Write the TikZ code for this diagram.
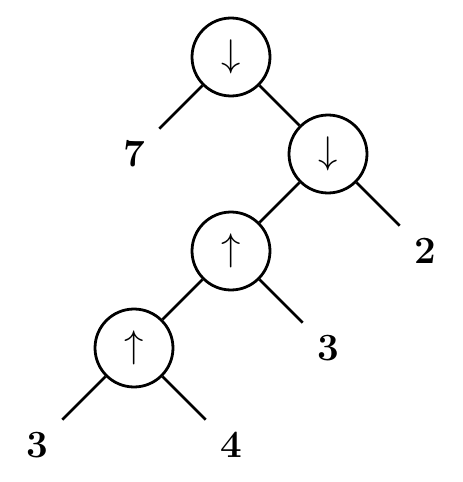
\documentclass[tikz,border=0pt]{standalone}
\begin{document}
\begin{tikzpicture}[x=0.645pt,y=-0.645pt,
  op/.style={circle,draw,line width=1.8pt,minimum size=50.3pt,inner sep=0pt,font=\Huge},
  leaf/.style={rectangle,minimum size=32.25pt,inner sep=0pt,font=\Huge\bfseries},
  edge/.style={line width=1.8pt}]
\useasboundingbox (0,0) rectangle (462,482);
\node[op] (r) at (231,57) {$\downarrow$};
\node[leaf] (l7) at (134,154) {7};
\node[op] (d2) at (328,154) {$\downarrow$};
\node[op] (u1) at (231,251) {$\uparrow$};
\node[leaf] (l2) at (425,251) {2};
\node[op] (u2) at (134,348) {$\uparrow$};
\node[leaf] (l3a) at (328,348) {3};
\node[leaf] (l3b) at (37,445) {3};
\node[leaf] (l4) at (231,445) {4};
\draw[edge] (r) -- (l7);
\draw[edge] (r) -- (d2);
\draw[edge] (d2) -- (u1);
\draw[edge] (d2) -- (l2);
\draw[edge] (u1) -- (u2);
\draw[edge] (u1) -- (l3a);
\draw[edge] (u2) -- (l3b);
\draw[edge] (u2) -- (l4);
\end{tikzpicture}
\end{document}
